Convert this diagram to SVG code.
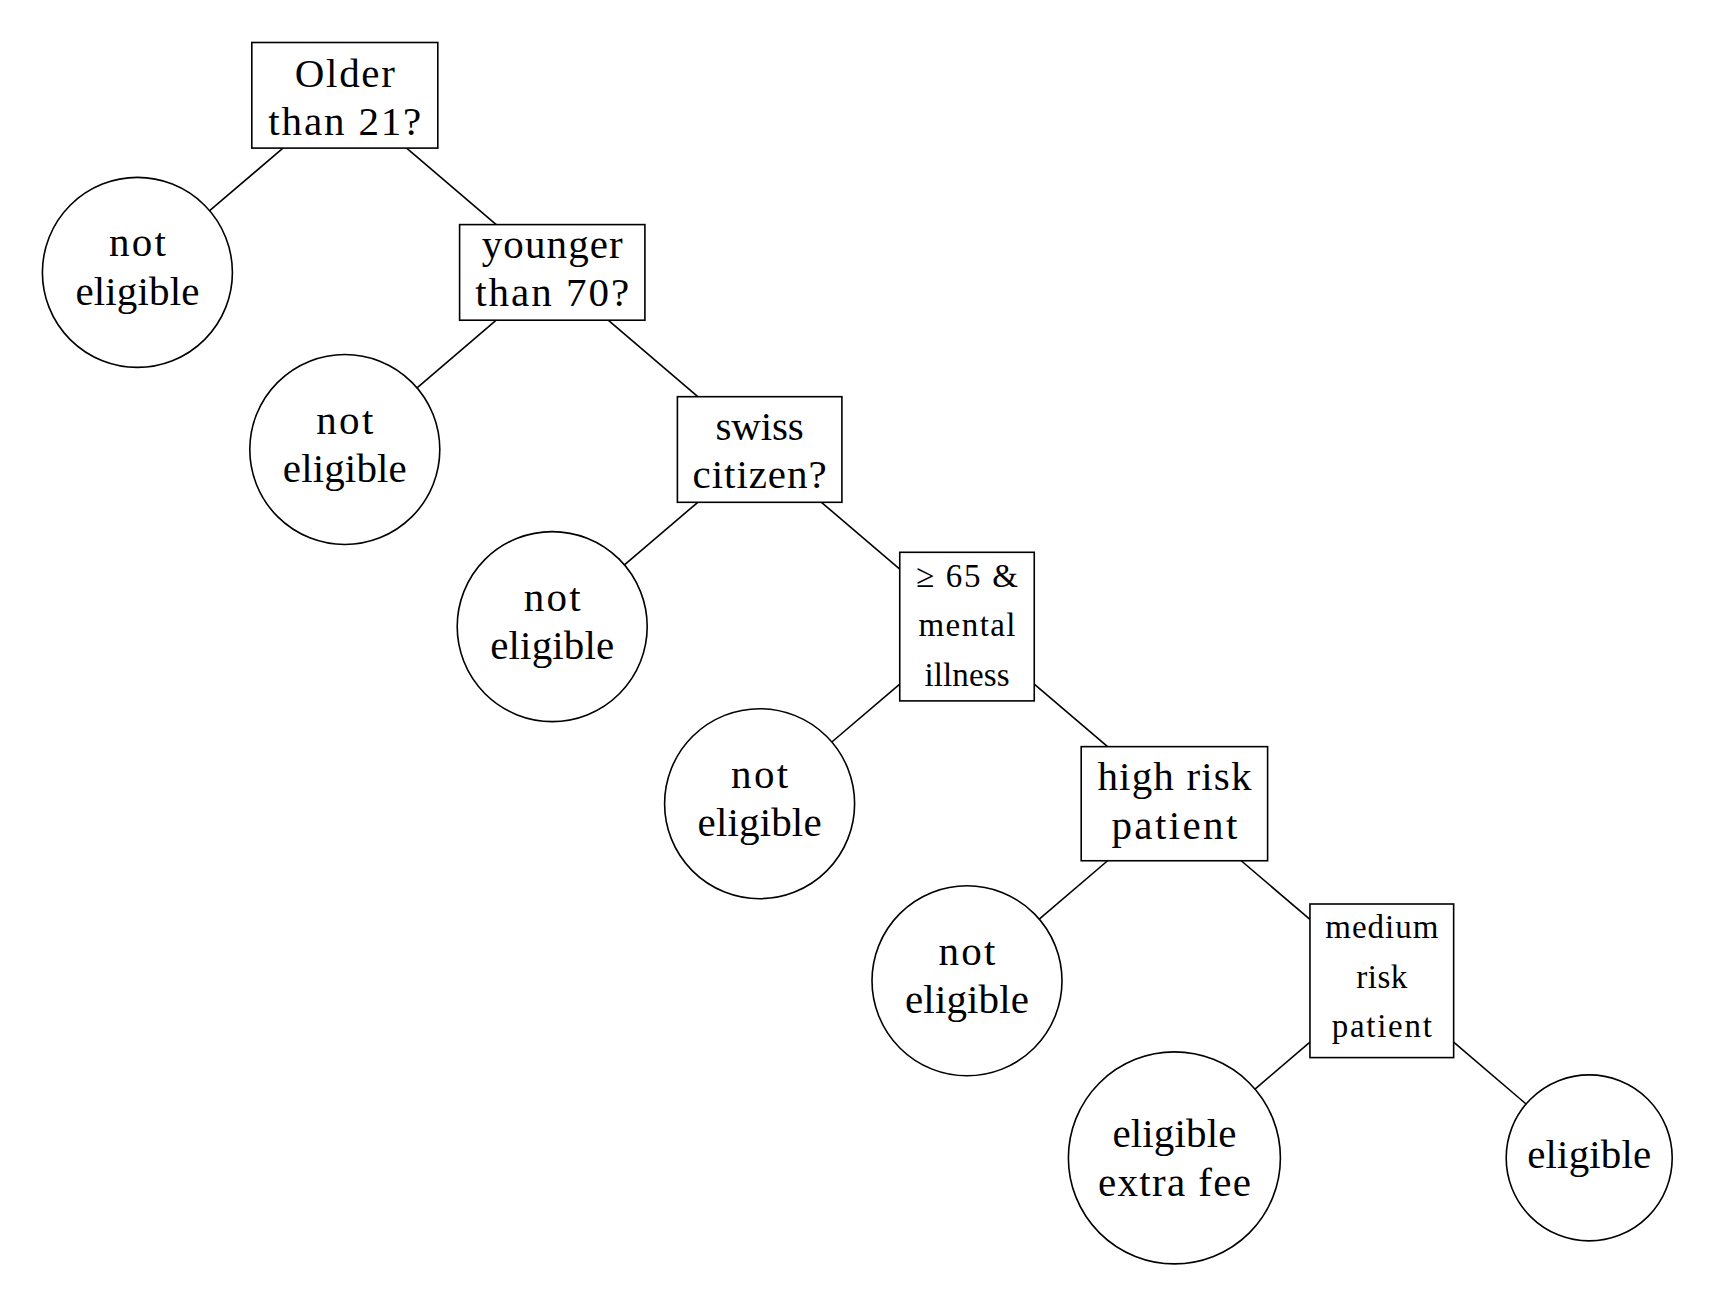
<svg xmlns="http://www.w3.org/2000/svg" width="1717" height="1308" viewBox="0 0 1717 1308">
<style>
.n{fill:#fff;stroke:#000;stroke-width:1.6}
.e line{stroke:#000;stroke-width:1.6}
text{font-family:"Liberation Serif","Times New Roman",serif;font-size:41px;fill:#000;text-anchor:middle}
text.s{font-size:33px}
</style>
<rect width="1717" height="1308" fill="#fff"/>
<g id="connectors" class="e">
<line x1="282.97" y1="148.1" x2="209.65" y2="210.71"/>
<line x1="406.63" y1="148.1" x2="496.23" y2="224.6"/>
<line x1="496.23" y1="320.2" x2="417.05" y2="387.81"/>
<line x1="608.17" y1="320.2" x2="697.77" y2="396.7"/>
<line x1="697.77" y1="502.3" x2="624.45" y2="564.91"/>
<line x1="821.43" y1="502.3" x2="899.75" y2="569.17"/>
<line x1="899.75" y1="684.03" x2="831.85" y2="742.01"/>
<line x1="1034.25" y1="684.03" x2="1107.59" y2="746.65"/>
<line x1="1107.59" y1="860.75" x2="1039.25" y2="919.11"/>
<line x1="1241.21" y1="860.75" x2="1309.95" y2="919.44"/>
<line x1="1309.95" y1="1042.16" x2="1255.01" y2="1089.06"/>
<line x1="1453.65" y1="1042.16" x2="1526.08" y2="1104.0"/>
</g>
<g id="older21">
<rect class="n" x="251.8" y="42.5" width="186" height="105.6"/>
<text x="344.8" y="86.7" textLength="100" lengthAdjust="spacing">Older</text>
<text x="344.8" y="134.5" textLength="153" lengthAdjust="spacing">than 21?</text>
</g>
<g id="ne1">
<circle class="n" cx="137.4" cy="272.4" r="95"/>
<text x="137.4" y="256.4" textLength="57" lengthAdjust="spacing">not</text>
<text x="137.4" y="305" textLength="124" lengthAdjust="spacing">eligible</text>
</g>
<g id="younger70">
<rect class="n" x="459.6" y="224.6" width="185.3" height="95.6"/>
<text x="552.2" y="257.5" textLength="141" lengthAdjust="spacing">younger</text>
<text x="552.2" y="306" textLength="154" lengthAdjust="spacing">than 70?</text>
</g>
<g id="ne2">
<circle class="n" cx="344.8" cy="449.5" r="95"/>
<text x="344.8" y="433.5" textLength="57" lengthAdjust="spacing">not</text>
<text x="344.8" y="482.1" textLength="124" lengthAdjust="spacing">eligible</text>
</g>
<g id="swiss">
<rect class="n" x="677.4" y="396.7" width="164.5" height="105.6"/>
<text x="759.6" y="439.5" textLength="88" lengthAdjust="spacing">swiss</text>
<text x="759.6" y="488" textLength="134" lengthAdjust="spacing">citizen?</text>
</g>
<g id="ne3">
<circle class="n" cx="552.2" cy="626.6" r="95"/>
<text x="552.2" y="610.6" textLength="57" lengthAdjust="spacing">not</text>
<text x="552.2" y="659.2" textLength="124" lengthAdjust="spacing">eligible</text>
</g>
<g id="mental">
<rect class="n" x="899.75" y="552.3" width="134.5" height="148.6"/>
<text class="s" x="967" y="586.7" textLength="102" lengthAdjust="spacing">≥ 65 &amp;</text>
<text class="s" x="967" y="636.2" textLength="97" lengthAdjust="spacing">mental</text>
<text class="s" x="967" y="685.7" textLength="85" lengthAdjust="spacing">illness</text>
</g>
<g id="ne4">
<circle class="n" cx="759.6" cy="803.7" r="95"/>
<text x="759.6" y="787.7" textLength="57" lengthAdjust="spacing">not</text>
<text x="759.6" y="836.3" textLength="124" lengthAdjust="spacing">eligible</text>
</g>
<g id="highrisk">
<rect class="n" x="1081.2" y="746.65" width="186.4" height="114.1"/>
<text x="1174.4" y="790" textLength="154" lengthAdjust="spacing">high risk</text>
<text x="1174.4" y="838.5" textLength="126" lengthAdjust="spacing">patient</text>
</g>
<g id="ne5">
<circle class="n" cx="967" cy="980.8" r="95"/>
<text x="967" y="964.8" textLength="57" lengthAdjust="spacing">not</text>
<text x="967" y="1013.4" textLength="124" lengthAdjust="spacing">eligible</text>
</g>
<g id="mediumrisk">
<rect class="n" x="1309.95" y="904.0" width="143.7" height="153.6"/>
<text class="s" x="1381.8" y="937.9" textLength="113" lengthAdjust="spacing">medium</text>
<text class="s" x="1381.8" y="987.5" textLength="51" lengthAdjust="spacing">risk</text>
<text class="s" x="1381.8" y="1037" textLength="100" lengthAdjust="spacing">patient</text>
</g>
<g id="extrafee">
<circle class="n" cx="1174.4" cy="1157.9" r="106"/>
<text x="1174.4" y="1147.3" textLength="124" lengthAdjust="spacing">eligible</text>
<text x="1174.4" y="1195.9" textLength="153" lengthAdjust="spacing">extra fee</text>
</g>
<g id="eligible">
<circle class="n" cx="1589.2" cy="1157.9" r="83"/>
<text x="1589.2" y="1168" textLength="124" lengthAdjust="spacing">eligible</text>
</g>
</svg>
